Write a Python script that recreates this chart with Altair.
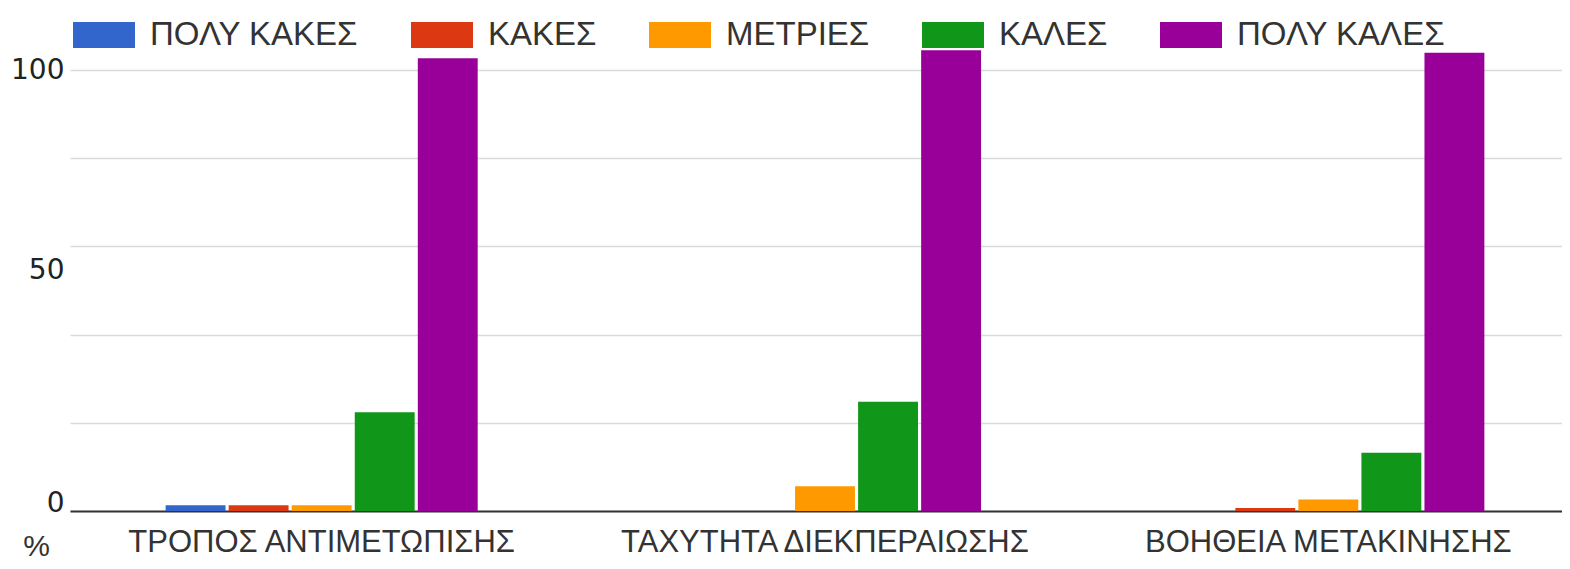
import altair as alt
import pandas as pd

categories = ["ΤΡΟΠΟΣ ΑΝΤΙΜΕΤΩΠΙΣΗΣ", "ΤΑΧΥΤΗΤΑ ΔΙΕΚΠΕΡΑΙΩΣΗΣ", "ΒΟΗΘΕΙΑ ΜΕΤΑΚΙΝΗΣΗΣ"]
series = ["ΠΟΛΥ ΚΑΚΕΣ", "ΚΑΚΕΣ", "ΜΕΤΡΙΕΣ", "ΚΑΛΕΣ", "ΠΟΛΥ ΚΑΛΕΣ"]
colors = ["#3366cc", "#dc3912", "#ff9900", "#109618", "#990099"]

poly_kakes = [1.3, 0.0, 0.0]
kakes = [1.3, 0.0, 0.7]
metries = [1.3, 5.6, 2.6]
kales = [22.4, 24.8, 13.2]
poly_kales = [102.7, 104.5, 103.9]

values = [poly_kakes, kakes, metries, kales, poly_kales]
rows = []
for s, vals in zip(series, values):
    for c, v in zip(categories, vals):
        rows.append({"category": c, "series": s, "value": v})
df = pd.DataFrame(rows)

W = 1492
H = 463
FONT = "Liberation Sans"

chart = alt.Chart(df).mark_bar().encode(
    x=alt.X("category:N", sort=categories, title=None,
            scale=alt.Scale(paddingInner=0.38, paddingOuter=0.19, range=[0, 1510]),
            axis=alt.Axis(labelFontSize=31, labelFont=FONT, labelColor="#333333",
                          labelPadding=16, labelAngle=0, ticks=False, labelLimit=600,
                          domainColor="#333333", domainWidth=2, grid=False)),
    xOffset=alt.XOffset("series:N", sort=series,
                        scale=alt.Scale(paddingOuter=0, paddingInner=0.05)),
    y=alt.Y("value:Q", title="%",
            scale=alt.Scale(domain=[0, 105], nice=False),
            axis=alt.Axis(values=[0, 20, 40, 50, 60, 80, 100],
                          labelExpr="datum.value % 50 === 0 ? datum.label : ''",
                          labelFontSize=28, labelFont="DejaVu Sans", labelColor="#222222",
                          labelPadding=6, ticks=False, domain=False,
                          labelOffset={"condition": [
                              {"test": "datum.value === 50", "value": -20},
                              {"test": "datum.value === 0", "value": -8}],
                              "value": 0},
                          gridColor="#dadada", gridWidth=1.5,
                          gridOpacity={"condition": {"test": "datum.value === 50", "value": 0},
                                       "value": 1},
                          titleAngle=0, titleFontSize=30, titleFont=FONT,
                          titleFontWeight="normal", titleColor="#333333",
                          titleX=-34, titleY=H + 35, titleAlign="center",
                          titleBaseline="middle")),
    color=alt.Color("series:N", sort=series,
                    scale=alt.Scale(domain=series, range=colors),
                    legend=alt.Legend(title=None, orient="none", direction="horizontal",
                                      legendX=3, legendY=-44,
                                      symbolType="M-1,-0.42H1V0.42H-1Z", symbolSize=3844,
                                      symbolStrokeWidth=0, symbolOpacity=1,
                                      labelFontSize=33, labelFont=FONT, labelColor="#333333",
                                      labelOffset=15, columnPadding=52, labelLimit=400)),
).properties(
    width=W, height=H,
    background="white",
    autosize=alt.AutoSizeParams(type="none"),
    padding={"left": 62, "top": 40, "right": 0, "bottom": 50},
).configure_view(strokeWidth=0, stroke="transparent")

chart.save("out.html", embed_options={"renderer": "svg", "actions": False})
